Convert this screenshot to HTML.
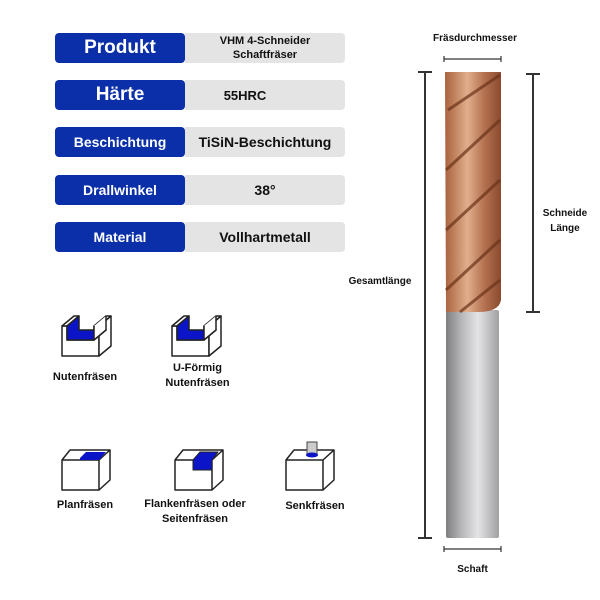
<!DOCTYPE html>
<html><head><style>
body{margin:0;width:600px;height:600px;background:#fff;font-family:"Liberation Sans",sans-serif;position:relative;overflow:hidden}
.row{position:absolute;left:55px;width:290px;height:30px}
.b{position:absolute;left:0;top:0;width:130px;height:30px;background:#0a2fa8;border-radius:4px;color:#fff;font-weight:bold;display:flex;align-items:center;justify-content:center}
.g{position:absolute;left:130px;top:0;width:160px;height:30px;background:#e4e4e4;border-radius:0 4px 4px 0;color:#111;font-weight:bold;display:flex;align-items:center;justify-content:center;text-align:center}
.t{position:absolute;font-weight:bold;font-size:11px;color:#111;text-align:center;line-height:15px}
</style></head><body>
<div class="row" style="top:33px"><div class="b" style="font-size:19px">Produkt</div><div class="g" style="font-size:11px;line-height:14px">VHM 4-Schneider<br>Schaftfräser</div></div>
<div class="row" style="top:80px"><div class="b" style="font-size:19px">Härte</div><div class="g" style="font-size:13px;padding-right:40px;box-sizing:border-box">55HRC</div></div>
<div class="row" style="top:127px"><div class="b" style="font-size:14px">Beschichtung</div><div class="g" style="font-size:14px">TiSiN-Beschichtung</div></div>
<div class="row" style="top:175px"><div class="b" style="font-size:14px">Drallwinkel</div><div class="g" style="font-size:14px">38°</div></div>
<div class="row" style="top:222px"><div class="b" style="font-size:14px">Material</div><div class="g" style="font-size:14px">Vollhartmetall</div></div>

<svg width="600" height="600" style="position:absolute;left:0;top:0" fill="#fff" stroke="#222" stroke-width="1.5" stroke-linejoin="round">
<g id="u">
<path d="M62 326 L67 326 L67 340 L94 340 L94 326 L99 326 L99 356 L62 356 Z"/>
<path d="M99 326 L111 316 L111 346 L99 356 Z"/>
<path d="M94 326 L106 316 L111 316 L99 326 Z"/>
<path d="M62 326 L74 316 L79 316 L67 326 Z"/>
<path d="M67 326 L79 316 L79 330 L106 330 L94 340 L67 340 Z" fill="#0c14c8"/>
<path d="M94 326 L94 340 L106 330 L106 316" fill="#fff"/>
</g>
<use href="#u" x="110"/>
<path d="M62 460 L99 460 L99 490 L62 490Z M62 460 L70 450 L110 450 L110 480 L99 490 M99 460 L110 450"/>
<path d="M80 458 L86 452 L106 452 L99 460 L80 460Z" fill="#0c14c8" stroke="none"/>
<path d="M175 460 L212 460 L212 490 L175 490Z M175 460 L183 450 L223 450 L223 480 L212 490 M212 460 L223 450"/>
<path d="M193 470 L193 460 L200 452 L218 452 L212 460 L212 470Z" fill="#0c14c8" stroke="#222" stroke-width="1"/>
<path d="M286 460 L323 460 L323 490 L286 490Z M286 460 L294 450 L334 450 L334 480 L323 490 M323 460 L334 450"/>
<rect x="307" y="442" width="10" height="12" fill="#ccc" stroke="#444" stroke-width="1"/>
<ellipse cx="312" cy="455" rx="6" ry="2.5" fill="#0c14c8" stroke="none"/>
<g stroke="#333" stroke-width="1.2">
<line x1="444" y1="59" x2="501" y2="59"/><line x1="444" y1="56" x2="444" y2="62"/><line x1="501" y1="56" x2="501" y2="62"/>
<line x1="444" y1="549" x2="501" y2="549"/><line x1="444" y1="546" x2="444" y2="552"/><line x1="501" y1="546" x2="501" y2="552"/>
<line x1="425" y1="72" x2="425" y2="538" stroke-width="2"/><line x1="418" y1="72" x2="432" y2="72" stroke-width="2"/><line x1="418" y1="538" x2="432" y2="538" stroke-width="2"/>
<line x1="533" y1="74" x2="533" y2="312" stroke-width="2"/><line x1="526" y1="74" x2="540" y2="74" stroke-width="2"/><line x1="526" y1="312" x2="540" y2="312" stroke-width="2"/>
</g>
<defs>
<linearGradient id="cu" x1="0" x2="1"><stop offset="0" stop-color="#a9623e"/><stop offset=".4" stop-color="#e0ae8c"/><stop offset=".7" stop-color="#b57251"/><stop offset="1" stop-color="#8a4a2e"/></linearGradient>
<linearGradient id="st" x1="0" x2="1"><stop offset="0" stop-color="#7e7e80"/><stop offset=".3" stop-color="#b8b8ba"/><stop offset=".6" stop-color="#e4e4e6"/><stop offset="1" stop-color="#a0a0a2"/></linearGradient>
</defs>
<rect x="446" y="310" width="53" height="228" fill="url(#st)" stroke="none" rx="2"/>
<path d="M445 72 L501 72 L501 300 Q499 312 478 312 L446 312 Z" fill="url(#cu)" stroke="none"/>
<g stroke="#6a3218" stroke-width="3" fill="none" opacity=".7">
<path d="M448 110 L500 75"/><path d="M446 170 L500 120"/><path d="M446 230 L500 180"/><path d="M446 290 L500 240"/><path d="M460 312 L500 280"/>
</g>
</svg>
<div class="t" style="left:40px;top:370px;width:90px">Nutenfräsen</div>
<div class="t" style="left:150px;top:361px;width:95px">U-Förmig<br>Nutenfräsen</div>
<div class="t" style="left:40px;top:498px;width:90px">Planfräsen</div>
<div class="t" style="left:140px;top:497px;width:110px">Flankenfräsen oder<br>Seitenfräsen</div>
<div class="t" style="left:270px;top:499px;width:90px">Senkfräsen</div>
<div class="t" style="left:420px;top:31px;width:110px;font-size:10px">Fräsdurchmesser</div>
<div class="t" style="left:340px;top:274px;width:80px;font-size:10px">Gesamtlänge</div>
<div class="t" style="left:535px;top:206px;width:60px;font-size:10px">Schneide<br>Länge</div>
<div class="t" style="left:440px;top:562px;width:65px;font-size:10px">Schaft</div>
</body></html>
